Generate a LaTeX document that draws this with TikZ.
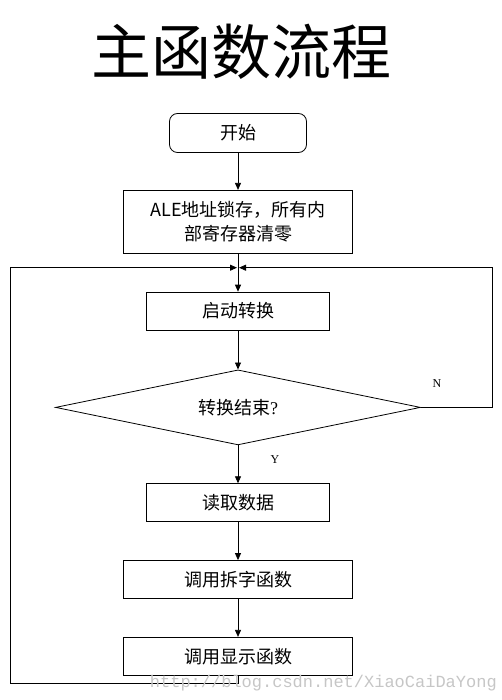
\documentclass[tikz,border=0pt]{standalone}
\usepackage{fontspec}
\setmainfont{Liberation Serif}
\newfontfamily\cjk{Noto Sans CJK SC}
\newfontfamily\wmfont{Liberation Mono}
\usepackage{tikz}
\usetikzlibrary{shapes.geometric, arrows.meta, positioning}

\begin{document}
\begin{tikzpicture}[
      x=1pt, y=-1pt,
      node distance = 38pt,
      every node/.style = {text=black},
      titlebox/.style = {font=\cjk\fontsize{60}{66}\selectfont, inner sep=0pt},
      startbox/.style = {
        rectangle, rounded corners=8pt, draw=black, line width=0.8pt,
        minimum width=137pt, minimum height=39pt,
        font=\cjk\fontsize{18}{24}\selectfont, align=center
      },
      procbox/.style = {
        rectangle, draw=black, line width=0.8pt,
        minimum height=38pt, inner sep=2pt,
        font=\cjk\fontsize{18}{24}\selectfont, align=center
      },
      decbox/.style = {
        diamond, draw=black, line width=0.8pt, inner sep=0pt, aspect=4.87,
        minimum width=365pt, minimum height=75pt,
        font=\cjk\fontsize{18}{24}\selectfont
      },
      arr/.style = {-{Triangle[length=7pt,width=6pt]}, line width=0.8pt, color=black},
      lbl/.style = {font=\fontsize{12}{14}\selectfont, inner sep=1pt},
      wmark/.style = {font=\wmfont\fontsize{17}{20}\selectfont, text=gray!45, inner sep=0pt}
    ]
      \path[use as bounding box] (0,0) rectangle (502,700);

      % ===================== Title =====================
      \node[titlebox] (ttl) at (241,52) {主函数流程};

      % ===================== Main column =====================
      \node[startbox] (start) at (238,133) {开始};
      \node[procbox, minimum width=229pt, minimum height=63pt, below=37pt of start] (init)
           {ALE\cjk 地址锁存，所有内\\\cjk 部寄存器清零};
      \node[procbox, minimum width=183pt, below=of init]  (conv)  {启动转换};
      \node[decbox, below=39pt of conv]                    (check) {转换结束{\rmfamily ?}};
      \node[procbox, minimum width=183pt, below=of check] (read)  {读取数据};
      \node[procbox, minimum width=229pt, below=of read]  (split) {调用拆字函数};
      \node[procbox, minimum width=229pt, below=of split] (show)  {调用显示函数};

      % Junction and loop corners
      \coordinate[below=14pt of init] (join);
      \coordinate (lft) at (10,683);
      \coordinate (rgt) at (492,405);

      % ===================== Straight path =====================
      \draw[arr] (start.south) -- (init.north);
      \draw[arr] (init.south) -- (conv.north);
      \draw[arr] (conv.south) -- (check.north);
      \draw[arr] (check.south) -- (read.north);
      \draw[arr] (read.south) -- (split.north);
      \draw[arr] (split.south) -- (show.north);

      % ===================== Loops =====================
      % not finished: back to the junction on the right
      \draw[arr, shorten >=1pt] (check.east) -- (check.east -| rgt) |- (join);
      % after display: back to the junction on the left
      \draw[arr, shorten >=1pt] (show.south) |- (lft) |- (join);

      % Labels
      \node[lbl] (nlab) at ([xshift=16pt,yshift=24pt]check.east) {N};
      \node[lbl] (ylab) at ([xshift=37pt,yshift=-14pt]check.south) {Y};

      % Watermark
      \node[wmark, anchor=east] (wm) at (497,683) {http://blog.csdn.net/XiaoCaiDaYong};

    \end{tikzpicture}
\end{document}
